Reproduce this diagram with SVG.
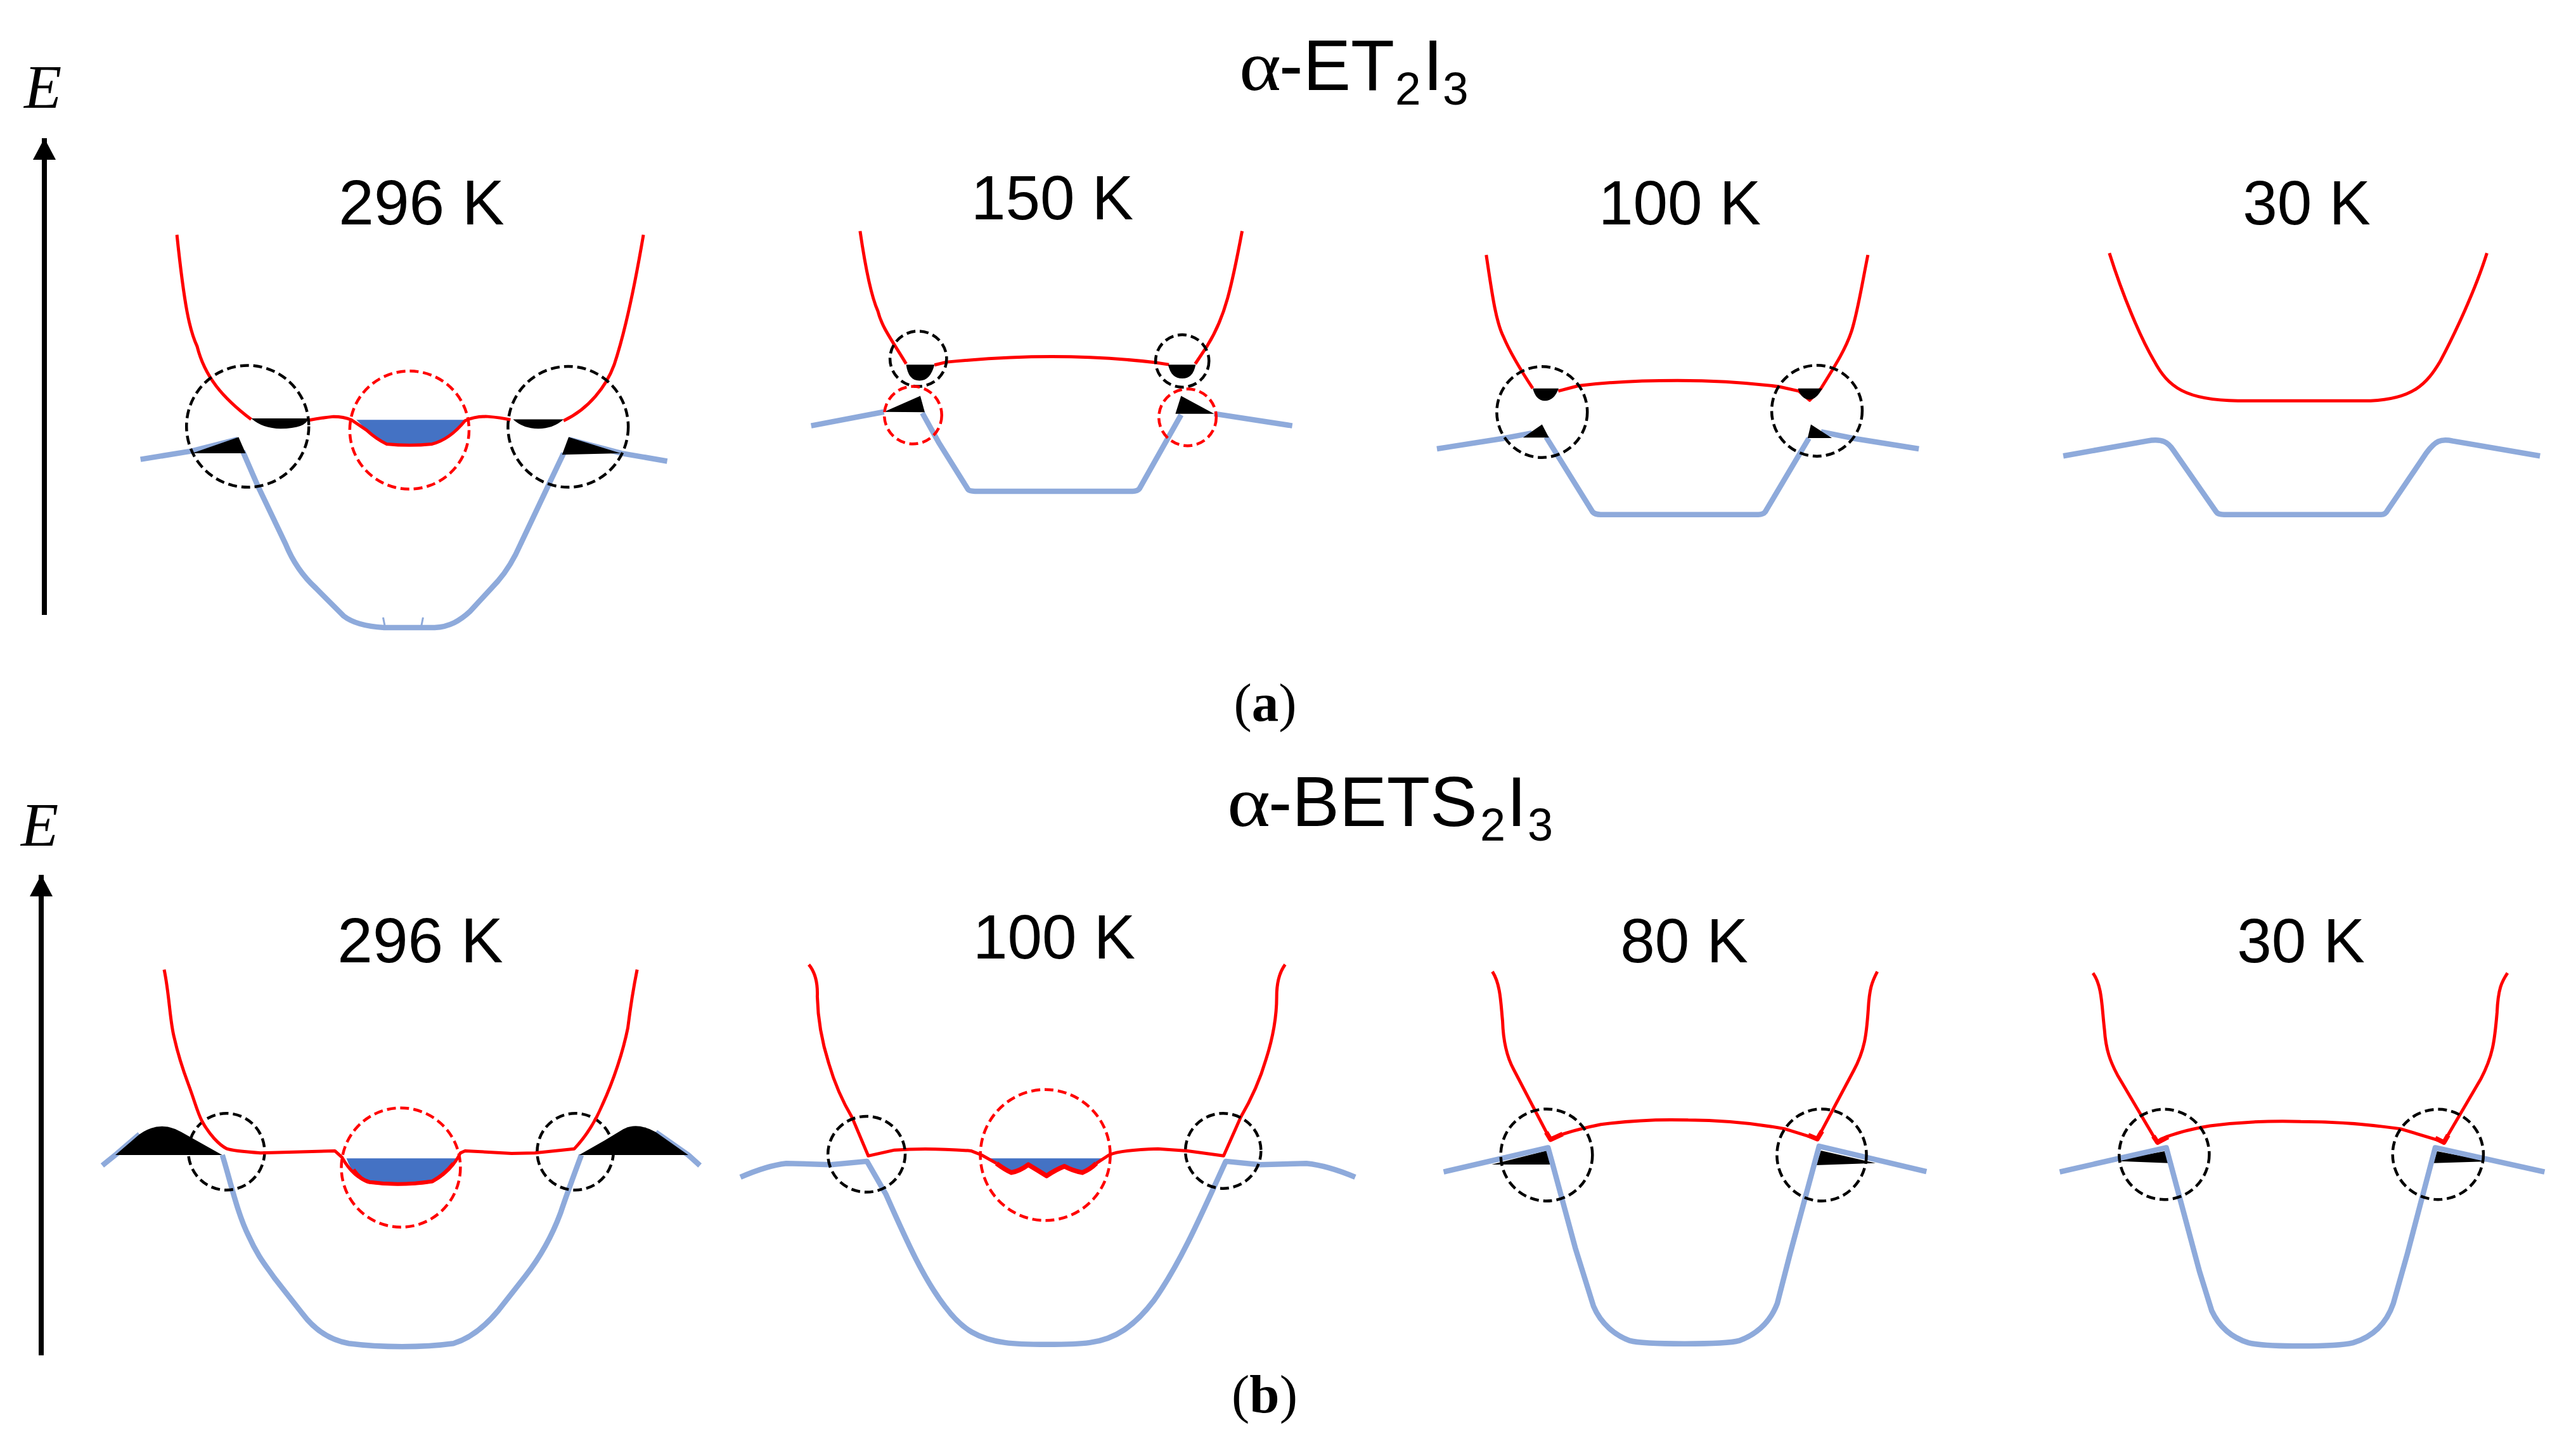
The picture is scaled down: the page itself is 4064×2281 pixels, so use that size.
<svg xmlns="http://www.w3.org/2000/svg" width="4064" height="2281" viewBox="0 0 4064 2281">
<style>
text{fill:#000}
.t{font-family:"Liberation Sans",Arial,sans-serif;font-size:100px;text-anchor:middle}
.h{font-family:"Liberation Sans",Arial,sans-serif;font-size:113px}
.s{font-family:"Liberation Serif","Times New Roman",serif;font-size:113px}
.e{font-family:"Liberation Serif","Times New Roman",serif;font-style:italic;font-size:97px}
.p{font-family:"Liberation Serif","Times New Roman",serif;font-size:85px;text-anchor:middle}
.p tspan{font-weight:bold}
.r,.b,.k,.c,.d,.n{fill:none;vector-effect:non-scaling-stroke}
.r{stroke:#ff0000;stroke-width:5;stroke-linejoin:round}
.b{stroke:#8eaadb;stroke-width:8.5;stroke-linejoin:round}
.n{stroke:#8eaadb;stroke-width:3}
.c{stroke:#000;stroke-width:4.5;stroke-dasharray:14 7}
.d{stroke:#ff0000;stroke-width:4.5;stroke-dasharray:14 7}
.x{stroke-width:7.5}
.f{fill:#000}
.w{fill:#4472c4}
.a{stroke:#000;stroke-width:8;fill:none}
</style>
<defs>
<marker id="head" markerUnits="userSpaceOnUse" markerWidth="36" markerHeight="38" refX="34" refY="19" orient="auto"><path d="M0,1 L34,19 L0,37 Z" fill="#000"/></marker>
</defs>
<rect width="4064" height="2281" fill="#fff"/>

<g id="connectors">
<path class="a" d="M70,970 L70,218" marker-end="url(#head)"/>
<path class="a" d="M65,2138 L65,1380" marker-end="url(#head)"/>
</g>

<g id="labels">
<text class="e" x="38" y="170">E</text>
<text class="e" x="33" y="1334">E</text>
<text class="s" x="1955" y="142" textLength="66" lengthAdjust="spacingAndGlyphs">α</text>
<text class="h" x="2018" y="142">-ET<tspan x="2201" y="165" font-size="73">2</tspan><tspan x="2245" y="142">I</tspan><tspan x="2276" y="165" font-size="73">3</tspan></text>
<text class="s" x="1936" y="1303" textLength="68" lengthAdjust="spacingAndGlyphs">α</text>
<text class="h" x="2001" y="1303" style="font-size:112px">-BETS<tspan x="2335" y="1326" font-size="72">2</tspan><tspan x="2377" y="1303">I</tspan><tspan x="2410" y="1326" font-size="72">3</tspan></text>
<text class="p" x="1996" y="1137">(<tspan>a</tspan>)</text>
<text class="p" x="1995" y="2228">(<tspan>b</tspan>)</text>
</g>

<g id="a-296K">
<text class="t" x="665" y="354">296 K</text>
<g transform="scale(.7974,.7334)">
<path class="w" d="M705,903 L920,903 Q895,935 860,955 L760,955 Q725,925 705,903 Z"/>
<path class="b" d="M278,988 L380,970 L470,945 M480,970 L510,1045 L565,1170 C580,1210 600,1240 625,1265 L680,1325 C700,1342 730,1348 760,1350 L860,1350 C890,1348 910,1335 930,1315 L985,1250 C1005,1225 1020,1195 1030,1170 L1115,975 M1125,945 L1230,975 L1320,992"/>
<path class="n" d="M758,1328 L762,1350 M837,1328 L833,1350"/>
<path class="f" d="M380,975 L472,940 L486,975 Z M1125,940 L1112,978 L1228,975 Z M497,900 L610,900 Q605,922 555,922 Q520,922 497,900 Z M1015,902 L1115,902 Q1095,922 1065,922 Q1035,922 1015,902 Z"/>
<path class="r" d="M350,505 C365,660 375,710 390,745 C405,810 440,855 497,902 M610,904 Q640,898 660,896 Q680,896 695,903 L725,925 Q745,945 765,955 Q810,960 855,955 Q890,945 920,905 Q940,895 965,896 Q990,898 1010,903 M1115,905 C1165,880 1200,830 1215,785 C1235,720 1255,620 1273,505"/>
<ellipse class="c" cx="490" cy="917" rx="121" ry="131"/>
<ellipse class="c" cx="1124" cy="918" rx="119" ry="130"/>
<ellipse class="d" cx="810" cy="925" rx="118" ry="127"/>
</g>
</g>

<g id="a-150K">
<text class="t" x="1660" y="346" style="font-size:98px">150 K</text>
<g transform="translate(1200,0) scale(.6378,.574)">
<path class="b" d="M125,1170 L305,1132 M400,1135 L440,1215 L513,1345 Q517,1350 530,1350 L920,1350 Q932,1350 937,1343 L1040,1140 M1122,1137 L1315,1170"/>
<path class="r" d="M246,635 C265,780 280,830 290,855 C300,900 325,935 360,1000 M430,1003 L460,995 Q600,980 720,980 Q850,980 975,996 L1010,1002 M1075,1000 L1105,950 C1130,905 1145,860 1155,820 C1170,760 1180,700 1191,635"/>
<path class="f" d="M305,1132 L395,1088 L406,1133 Z M1040,1088 L1026,1137 L1122,1137 Z M360,1002 L430,1002 Q420,1046 393,1046 Q365,1046 360,1002 Z M1008,1002 L1076,1002 Q1070,1040 1043,1040 Q1015,1040 1008,1002 Z"/>
<ellipse class="c" cx="390" cy="986" rx="70" ry="76"/>
<ellipse class="c" cx="1043" cy="992" rx="66" ry="72"/>
<ellipse class="d" cx="377" cy="1141" rx="71" ry="79"/>
<ellipse class="d" cx="1056" cy="1147" rx="71" ry="78"/>
</g>
</g>

<g id="a-100K">
<text class="t" x="2650" y="354" style="font-size:98px">100 K</text>
<g transform="translate(2200,250) scale(.6378,.4145)">
<path class="b" d="M105,1105 L270,1065 L340,1045 M375,1060 L490,1345 Q496,1355 510,1355 L900,1355 Q912,1355 917,1345 L1025,1065 M1055,1040 L1135,1065 L1297,1105"/>
<path class="r" d="M227,367 C240,500 250,620 270,680 C285,735 310,800 342,875 M405,885 L455,865 Q560,845 700,845 Q830,845 950,868 L1000,885 L1027,920 L1055,875 C1085,800 1115,730 1130,660 C1145,590 1155,490 1171,367"/>
<path class="f" d="M318,1062 L365,1012 L382,1062 Z M1030,1012 L1022,1064 L1082,1064 Z M342,875 L406,875 Q395,922 372,922 Q350,922 342,875 Z M998,875 L1058,875 Q1045,915 1027,918 Q1005,915 998,875 Z"/>
<ellipse class="c" cx="365" cy="965" rx="112" ry="173"/>
<ellipse class="c" cx="1045" cy="960" rx="112" ry="173"/>
</g>
</g>

<g id="a-30K">
<text class="t" x="3639" y="354" style="font-size:98px">30 K</text>
<g transform="translate(3200,250) scale(.551,.4145)">
<path class="r" d="M232,360 C270,520 320,680 360,770 C400,870 450,920 600,922 L980,922 C1100,915 1140,860 1180,770 C1220,670 1280,500 1313,360"/>
<path class="b" d="M100,1132 L340,1075 C385,1065 400,1080 415,1110 L538,1345 Q543,1355 560,1355 L1010,1355 Q1022,1355 1028,1340 L1140,1120 C1165,1075 1180,1065 1215,1075 L1465,1132"/>
</g>
</g>

<g id="b-296K">
<text class="t" x="663" y="1518">296 K</text>
<g transform="translate(0,1250) scale(.7337,.6575)">
<path class="w" d="M745,878 L985,878 Q970,910 930,935 Q860,950 795,937 Q760,925 745,878 Z"/>
<path class="b" d="M220,895 L250,868 L300,820 M478,870 C495,930 510,1010 535,1065 C555,1115 575,1140 590,1165 L650,1250 C680,1295 715,1315 750,1322 C820,1332 910,1332 975,1322 C1010,1310 1040,1285 1070,1245 L1130,1160 C1165,1110 1190,1055 1205,1010 C1220,960 1235,915 1250,870 M1410,815 L1480,870 L1505,895"/>
<ellipse class="c" cx="487" cy="862" rx="82" ry="92"/>
<ellipse class="c" cx="1237" cy="862" rx="82" ry="92"/>
<path class="f" d="M248,870 L300,820 Q345,785 390,815 L478,870 Z M1245,870 L1300,835 L1340,808 Q1370,790 1410,815 L1480,870 Z"/>
<path class="r" d="M353,425 C365,490 365,550 375,590 C385,640 395,670 405,700 C420,745 425,770 435,790 C450,820 470,845 488,855 Q500,860 560,865 L720,860 L735,875 Q760,925 795,935 Q860,945 930,933 Q970,910 990,865 L1000,860 L1100,866 L1150,865 L1235,855 C1260,825 1280,790 1295,750 C1320,690 1340,620 1350,565 C1355,520 1360,480 1370,425"/>
<path class="r x" d="M760,905 Q775,930 795,935 Q860,945 930,933 Q955,918 975,890" style="stroke-width:6"/>
<ellipse class="d" cx="862" cy="900" rx="128" ry="143"/>
</g>
</g>

<g id="b-100K">
<text class="t" x="1663" y="1512" style="font-size:98px">100 K</text>
<g transform="translate(1130,1250) scale(.6698,.6575)">
<path class="w" d="M640,878 L915,878 L862,912 L820,897 L778,920 L735,893 L695,912 Z"/>
<path class="b" d="M57,923 Q120,895 165,890 L270,893 L355,885 L400,965 C450,1080 490,1170 540,1235 C580,1290 620,1312 680,1320 C720,1326 840,1326 880,1320 C940,1312 985,1280 1030,1220 C1090,1135 1140,1020 1200,885 L1280,893 L1390,890 Q1440,895 1505,923"/>
<path class="r" d="M218,413 Q240,440 238,490 Q240,570 265,650 Q285,720 320,780 L358,872 L420,858 Q500,852 600,860 L625,870 L660,890 M895,890 L925,870 Q950,858 1040,855 L1110,860 L1195,872 L1235,780 Q1275,710 1295,640 Q1320,560 1320,490 Q1320,440 1340,413"/>
<path class="r x" d="M660,890 Q680,905 695,912 Q715,908 735,893 Q755,905 778,920 Q800,905 820,897 Q840,908 862,912 Q880,905 895,890"/>
<ellipse class="c" cx="354" cy="868" rx="91" ry="91"/>
<ellipse class="c" cx="1194" cy="860" rx="89" ry="90"/>
<ellipse class="d" cx="775" cy="870" rx="153" ry="157"/>
</g>
</g>

<g id="b-80K">
<text class="t" x="2657" y="1518" style="font-size:98px">80 K</text>
<g transform="translate(2250,1450) scale(.574,.4592)">
<path class="f" d="M180,843 L332,795 L345,843 Z M1085,795 L1072,845 L1235,838 Z"/>
<path class="b" d="M48,868 L335,785 L345,830 L410,1130 L460,1330 C480,1390 520,1430 560,1448 C600,1462 820,1462 860,1448 C910,1425 945,1385 965,1320 L1000,1150 L1080,780 L1375,867"/>
<path class="r" d="M182,180 C205,225 205,290 210,350 C212,430 225,480 240,515 L340,755 L350,750 Q400,725 480,705 Q600,685 720,690 Q850,690 985,720 L1075,755 L1175,520 C1205,450 1210,400 1215,310 C1218,240 1225,215 1240,180"/>
<path class="r x" d="M330,732 L342,757 L375,738 M1050,742 L1075,755 L1088,728"/>
<ellipse class="c" cx="331" cy="810" rx="126" ry="158"/>
<ellipse class="c" cx="1087" cy="810" rx="123" ry="158"/>
</g>
</g>

<g id="b-30K">
<text class="t" x="3630" y="1518" style="font-size:98px">30 K</text>
<g transform="translate(3200,1450) scale(.551,.4592)">
<path class="f" d="M240,830 L390,797 L402,838 Z M1170,797 L1160,838 L1320,832 Z"/>
<path class="b" d="M90,868 L395,785 L405,830 L490,1210 L525,1345 C550,1410 590,1440 630,1455 C680,1470 880,1470 930,1455 C985,1435 1025,1390 1045,1320 L1085,1150 L1165,785 L1478,868"/>
<path class="r" d="M185,185 C212,230 210,300 218,380 C222,450 235,490 255,535 L368,765 L380,755 Q440,725 520,710 Q650,690 780,695 Q920,695 1065,720 L1190,765 L1295,550 C1330,470 1335,420 1342,320 C1345,240 1355,215 1372,185"/>
<path class="r x" d="M358,745 L370,767 L400,748 M1165,752 L1190,767 L1202,742"/>
<ellipse class="c" cx="389" cy="808" rx="129" ry="155"/>
<ellipse class="c" cx="1173" cy="808" rx="130" ry="155"/>
</g>
</g>
</svg>
